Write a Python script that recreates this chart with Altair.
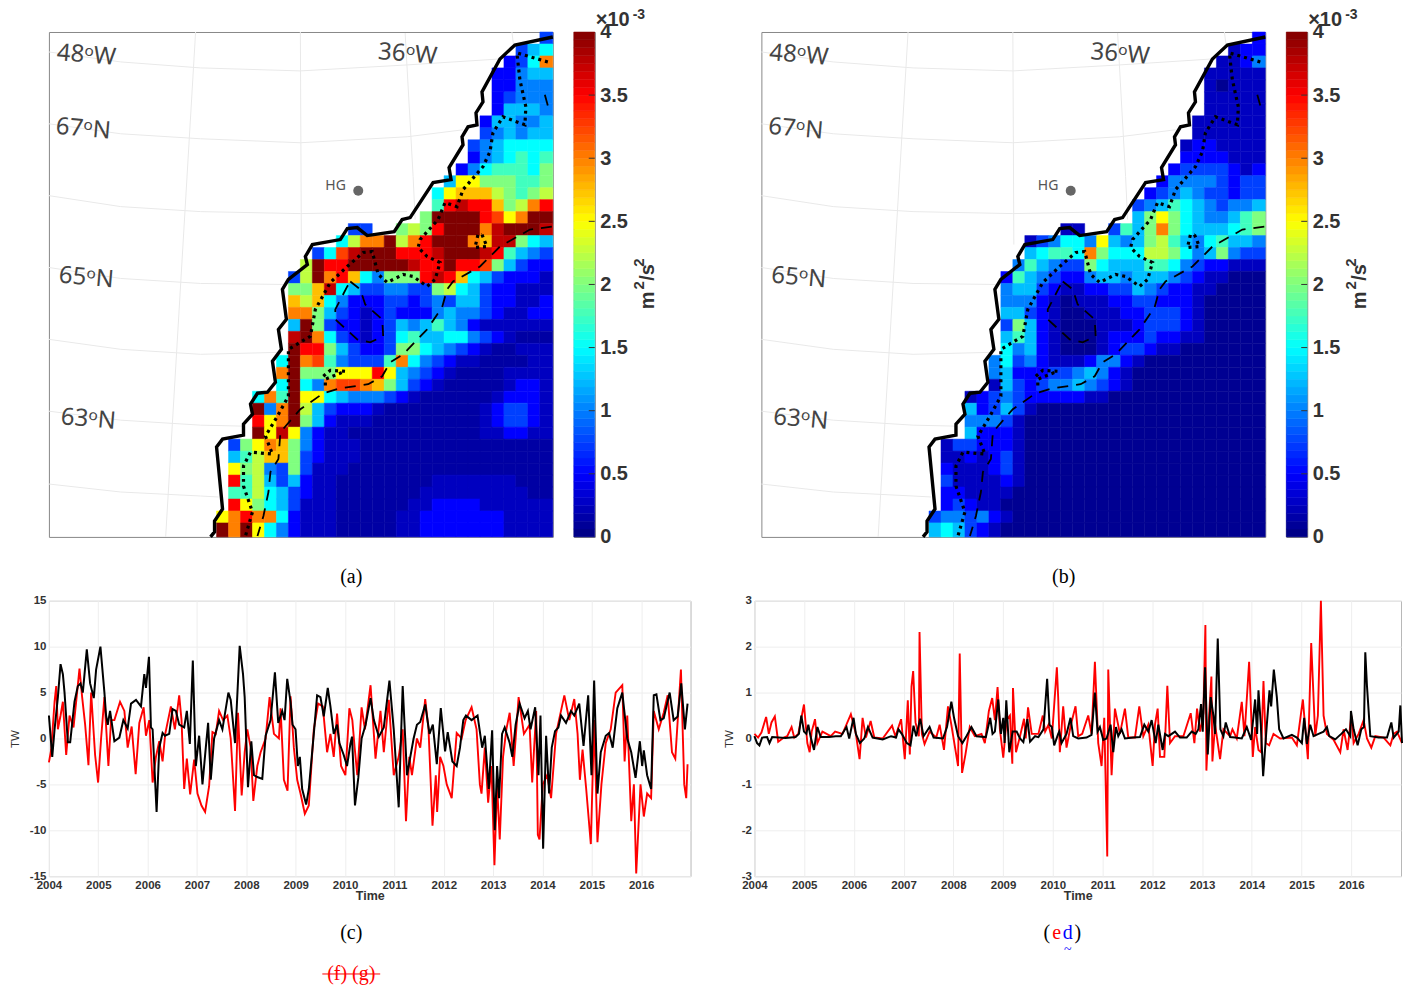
import altair as alt
import pandas as pd
import numpy as np

# ---- map cell values: (first column, one character per cell), row by row from the top
LEVELS = "0123456789abcdefg"   # each step is 0.25e-3 m2/s2
MAP_A = [
(41,"3"),(39,"356"),(38,"236c"),(37,"22455"),(37,"22444"),(37,"23444"),(37,"25554"),
(36,"255445"),(36,"345455"),(35,"3456666"),(35,"2456767"),(34,"24677768"),
(33,"5aa888778"),(32,"6abbb98789"),(32,"7efeeb89ce"),(31,"8ggggedacgg"),
(25,"33..898egggcfgggf"),(24,"69ccg9cegggcbff865"),(22,"36dfgggeeefgggfe7543"),
(21,"9geegggggfeegeed85322"),(20,"39gceb64888efeb6532221"),(20,"88bf653344338965322111"),
(20,"b9b6422233234355322112"),(20,"cc85321232224544321122"),(20,"5g83221235457542111111"),
(20,"fgc6321236755664321ooo"),(20,"gee85322388654321oo111"),(19,"6gcd743337c643211oooo11"),
(19,"cg888aaaea54321oooo1111"),(19,"6g64cddcb85321ooooo1221"),(17,"6c7gaa65444321oooooo12221"),
(17,"g4cg9532221oooooooo123321"),(17,"eacg852111ooooooooo123321"),(17,"gafa4211ooooooooooo112211"),
(15,"38acb842111oooooooooooooooo"),(15,"579bb832111oooooooooooooooo"),(15,"a894383111ooooooooooooooooo"),
(15,"e79535211oooooooo1111111ooo"),(15,"779653211ooooooo111111111oo"),(15,"ea8653111oooooo112222111111"),
(14,"acecc62111ooooo1122222221111"),(14,"gcga642111ooooo1122222221111"),
]
MAP_B = [
(41,"2"),(39,"122"),(38,"1124"),(37,"11111"),(37,"1o111"),(37,"11111"),(37,"11111"),
(36,"111111"),(36,"111111"),(35,"1221111"),(35,"2222111"),(34,"23333212"),
(33,"244443233"),(32,"2345433233"),(31,"34576543445"),(31,"58a86544578"),
(25,"11..3758c86555678"),(22,"134664a5458975467554"),(22,"56776c86669986458433"),
(21,"475433865557764322111"),(20,"2754322455455543211ooo"),(20,"455321122335432211oooo"),
(20,"44421o11122332221ooooo"),(20,"55321oo1112233321ooooo"),(20,"38521ooo111233321ooooo"),
(20,"57521ooo122232211ooooo"),(20,"64521ooo1233211ooooooo"),(19,"4634211124421oooooooooo"),
(19,"452223345421ooooooooooo"),(19,"153234454321ooooooooooo"),(17,"123432222211ooooooooooooo"),
(17,"523531ooooooooooooooooooo"),(17,"44431oooooooooooooooooooo"),(17,"52221oooooooooooooooooooo"),
(15,"1332221oooooooooooooooooooo"),(15,"1121231oooooooooooooooooooo"),(15,"2111231oooooooooooooooooooo"),
(15,"3111121oooooooooooooooooooo"),(15,"221111ooooooooooooooooooooo"),(15,"23211oooooooooooooooooooooo"),
(14,"3443421ooooooooooooooooooooo"),(14,"565321oooooooooooooooooooooo"),
]
LOW_A, LOW_B = 0.14, 0.07

# ---- map outlines, read as pixels of the map's own frame (origin at its top-left = 48,32)
COAST = [(553,37),(515,45),(500,59),(482,92),(483,102),(476,113),(477,125),(468,127),(462,137),(463,145),(449,168),(451,180),(433,183),(410,218),(402,220),(394,232),(367,236),(357,228),(347,229),(340,240),(312,245),(305,257),(307,265),(288,280),(282,290),(286,320),(278,330),(281,350),(272,362),(275,383),(267,393),(257,394),(250,405),(252,415),(243,425),(243,436),(222,440),(216,448),(222,510),(214,522),(214,533),(210,538)]
DOTTED = [(548,62),(517,53),(520,80),(526,107),(525,125),(503,117),(493,133),(490,152),(483,167),(463,190),(457,207),(445,203),(438,220),(420,240),(418,248),(427,257),(440,263),(435,280),(427,287),(413,277),(403,275),(387,283),(378,275),(372,252),(363,253),(347,267),(330,283),(315,310),(310,337),(288,350),(288,377),(288,397),(277,417),(265,437),(272,455),(250,453),(243,467),(243,487),(252,513),(245,537)]
DOT_LOOP1 = [(482,235),(487,247),(475,248),(478,235),(482,235)]
DOT_LOOP2 = [(323,377),(330,371),(345,372),(337,375),(325,380),(325,387)]
DASHED = [(552,227),(530,230),(500,247),(480,267),(453,282),(447,290),(442,308),(427,330),(403,355),(390,363),(382,377),(368,385),(340,389),(323,394),(300,410),(280,433),(278,460),(270,473),(268,493),(263,517),(257,537)]
DASH_LOOP = [(350,282),(360,290),(365,305),(382,320),(383,337),(370,343),(357,340),(335,320),(335,310),(347,287),(350,282)]
DASH_TOP = [(545,95),(550,113)]
GRATICULE = [
 [(48,52),(120,62),(200,68),(300,71),(407,65),(500,59)],
 [(48,124),(120,134),(200,139),(300,143),(407,137),(463,130)],
 [(48,196),(120,207),(200,212),(300,214),(407,212)],
 [(48,268),(120,279),(200,284),(283,285)],
 [(48,340),(120,350),(200,355),(280,353)],
 [(48,412),(120,421),(200,426),(243,427)],
 [(48,485),(120,493),(200,497),(218,498)],
 [(195,32),(165,538)],[(300,32),(301,245)],[(405,33),(413,177),(415,220)],[(512,32),(514,48)],
]
HG = (358,191)

# ---- time series: (reading on a scale of about 148 ticks per year, value)
C_BLACK_1 = [(148,2.5),(158,-2),(165,1),(175,4.5),(183,8.1),(190,7),(195,5),(205,-.4),(212,-.4),(225,4),(235,5.7),(243,6),(250,5),(262,9.7),(272,6),(283,4.4),(290,7.5),(303,10),(315,5),(320,2.5),(325,1.5),(332,3),(345,-.3),(360,.1),(372,2),(385,1.1),(395,3.8),(410,4.2),(425,3.5),(435,7),(440,5.5),(449,8.9),(455,1.2),(460,1),(472,-8),(480,-1),(490,.6),(497,.3),(510,.5),(520,3.2),(530,3),(540,1.5),(555,1.2),(563,3),(572,-.6),(581,8.5),(590,-3),(600,.3),(610,-5),(620,-1),(627,1.7),(635,-4.5),(645,0),(660,2),(670,1),(688,5),(695,4.2),(708,-.5),(722,10.1),(732,7),(737,4.5),(747,-5.3),(757,-.3),(765,-4),(775,-4.2),(790,-4.4),(800,.3),(815,2),(828,7.2),(838,1.7),(850,3),(857,2),(865,6.5),(875,4),(881,1.5),(890,1),(897,-3),(903,-2),(910,-5.5),(922,-7.2),(930,-5.5),(945,.5),(955,4.7),(965,4.5),(975,2.4),(987,5.5),(995,3.5),(1005,.5),(1015,1.5),(1022,-.5),(1035,-1.8),(1045,-3),(1055,-.6),(1060,.2)]
C_BLACK_2 = [(18,-7.3),(28,-4.3),(38,0),(50,1.5),(65,4.4),(75,2),(90,.2),(105,1.2),(122,6.3),(135,1),(150,-7.5),(162,5.7),(175,-4),(195,0),(205,1.5),(215,1.8),(230,3.7),(243,.5),(253,1.5),(265,-2.8),(277,3.3),(290,-1.4),(298,.7),(312,-2.5),(325,-3),(335,-1),(345,2),(353,2.5),(370,2),(388,2.5),(402,-1),(410,.3),(422,-5.5),(432,.9),(440,-10),(447,-3),(453,-6.5),(462,.5),(470,1.2),(485,-.5),(493,-2),(503,1.5),(515,3.8),(530,2.2),(540,3),(548,1),(562,3.4),(572,-4),(578,2.5),(586,-12),(595,.3),(604,-6),(612,-1),(622,.8),(632,1.2),(640,2.5),(655,1.7),(670,3),(680,2.5),(695,3.8),(708,-.8),(722,4.7),(732,-4),(740,6.3),(750,-6),(760,-1.5),(775,.3),(785,.6),(796,-1),(810,3.3),(825,5),(840,0),(852,-1.5),(865,-4.3),(878,-.3),(885,-3),(890,-1.3),(900,-4),(912,-5.5),(920,4.7),(928,4.8),(940,2),(950,2.2),(968,5),(980,2),(992,2.4),(1003,6),(1014,1),(1022,3.8)]
C_RED_1 = [(148,-2.6),(155,-1.2),(165,4),(170,5.7),(175,1),(183,2.5),(190,4),(200,-1.8),(210,2.5),(222,1.2),(230,4),(240,7.6),(248,4.5),(257,1.5),(267,-2.9),(275,5),(287,-1.8),(296,-4.8),(305,0),(315,4.5),(327,-3),(335,2),(345,2),(362,4),(375,3),(385,-1),(397,1.3),(409,-3.9),(420,1.7),(433,3.4),(440,.3),(450,2),(460,-4.8),(470,-2),(480,-.3),(490,-2.5),(498,.5),(515,3.5),(527,1),(540,4.7),(547,2),(555,-5.5),(563,-2.2),(573,-6.1),(585,-2.3),(595,-6),(607,-7.3),(618,-8),(630,-5.2),(640,.7),(650,.5),(660,3),(672,2),(685,2.5),(695,0),(708,-7.9),(717,2.8),(728,-6.2),(737,-1.5),(745,1),(755,-1),(763,-6.8),(775,-3),(785,-1.5),(800,0),(812,4.5),(825,.5),(840,0),(845,3.3),(855,-4.5),(866,-5.7),(875,4.6),(885,-1),(895,-4.5),(905,-6),(918,-8.2),(930,-7.3),(945,1),(958,3.8),(972,3.5),(985,-1.5),(995,.5),(1005,-2),(1015,2.7),(1027,-3),(1040,-4),(1052,3.3)]
C_RED_2 = [(10,2),(17,-1),(25,-4),(38,3.4),(48,1),(65,5.8),(80,-2.2),(95,3),(105,-1.5),(120,4.2),(135,-4),(150,-2),(162,1),(172,-9),(182,-2),(190,-4),(205,0),(215,-1),(230,4.3),(240,1),(252,-9.5),(262,-4),(266,-8),(275,-2),(285,-3),(295,-5),(310,-6.5),(325,.6),(340,0),(352,2),(370,3.4),(385,1),(395,-5),(400,-6),(410,-1),(420,-7),(430,-3),(439,-13.8),(447,-5),(455,-11),(465,-2),(475,1),(485,2.8),(497,-3),(512,4.5),(528,.5),(545,1.5),(553,-4.8),(565,3),(570,-10.5),(575,-11),(585,-5),(598,-4),(610,-6.5),(625,.5),(650,4.7),(665,2),(680,4.3),(690,.5),(697,-4.5),(705,-1.2),(716,-5.5),(730,-11.5),(740,2),(750,-11.3),(762,-5),(775,-.5),(790,1),(805,5),(825,5.8),(832,-2.5),(840,2.5),(852,-9),(860,-5),(867,-14.7),(880,-5),(890,-8.5),(900,-6),(912,-6.5),(920,3),(935,1),(950,2.8),(962,4.7),(975,-1.5),(985,-2.2),(1002,7.5),(1012,-5),(1018,-6.5),(1022,-2.8)]
D_BLACK_1 = [(137,.05),(145,-.1),(152,-.15),(160,.02),(175,.03),(182,-.1),(190,.03),(230,.01),(260,.03),(270,.1),(277,.5),(285,.15),(292,.1),(298,.3),(305,.03),(315,-.25),(325,.25),(335,.03),(360,.03),(380,.05),(395,.05),(412,.25),(420,0),(433,.45),(440,.1),(452,-.1),(465,0),(476,.25),(490,.02),(520,-.02),(545,.05),(560,.02),(567,.2),(577,.1),(592,-.1),(603,-.15),(612,.28),(620,.05),(632,.43),(642,.05),(660,.25),(672,.02),(700,0),(712,.25),(725,.8),(733,.45),(745,.05),(758,-.1),(770,.05),(785,.25),(800,.05),(828,.03),(841,.45),(848,.1),(855,.15),(865,.85),(873,.1),(880,.45),(884,-.1),(889,.83),(898,-.3),(908,.15),(920,.15),(930,0),(940,-.08),(952,.42),(960,-.07),(975,.05),(985,.03),(1000,.2),(1011,1.3),(1018,.3),(1025,.25),(1032,-.15),(1047,.15)]
D_BLACK_2 = [(0,.1),(10,-.1),(25,.1),(37,.45),(45,.05),(60,0),(85,.02),(100,.08),(110,1),(118,.15),(125,.25),(135,-.03),(145,0),(157,.3),(165,-.3),(173,.25),(180,.05),(190,.2),(200,0),(225,.02),(245,.03),(258,.3),(270,.15),(280,.4),(292,-.1),(300,.3),(313,-.25),(320,.1),(330,.05),(350,.15),(365,.02),(385,.02),(400,.15),(412,.1),(420,.2),(428,.75),(433,.15),(440,1.55),(448,-.35),(457,.9),(465,.5),(470,.1),(478,2.18),(486,.2),(495,.05),(502,.35),(515,.03),(530,.02),(550,0),(565,.25),(578,-.03),(590,.85),(596,.1),(600,1.05),(607,.3),(614,-.82),(625,.3),(633,1.05),(638,.7),(646,1.5),(655,.9),(662,.2),(675,0),(700,.08),(715,.02),(730,-.1),(737,.45),(745,-.12),(755,.3),(765,.05),(780,.1),(795,.15),(805,.25),(812,.05),(830,-.02),(848,.1),(862,.2),(875,.05),(877,.6),(885,.2),(897,-.15),(908,.2),(916,.25),(920,1.88),(925,1.15),(935,.05),(960,.02),(985,.02),(998,.35),(1005,.02),(1020,.15),(1025,.72),(1030,-.1)]
D_RED_1 = [(137,.1),(148,.02),(158,.13),(172,.47),(180,.1),(188,.35),(198,.48),(208,-.07),(225,.02),(235,.05),(248,.25),(256,.02),(268,.1),(285,.74),(295,-.1),(302,-.3),(308,.15),(318,.42),(325,-.1),(340,.15),(365,.05),(378,.15),(400,.1),(425,.53),(440,.1),(451,-.45),(460,.45),(470,.02),(484,.38),(495,.02),(520,0),(548,.28),(558,.05),(575,.42),(586,-.45),(595,.83),(601,-.35),(606,1.13),(611,1.47),(618,.35),(628,.05),(630,2.32),(637,.1),(645,-.12),(660,.15),(680,.02),(690,.3),(703,-.25),(715,.7),(725,.3),(745,-.6),(750,1.85),(757,-.75),(767,-.35),(780,.25),(795,.05),(815,.1),(825,-.1),(837,.6),(847,.88),(855,.4),(863,1.12),(870,.2),(880,-.42),(890,.4),(900,.5),(907,-.55),(909,1.1),(918,-.3),(930,.05),(942,.43),(947,0),(954,.68),(965,.1),(985,.1),(998,.5),(1005,.15),(1015,.3),(1025,0),(1040,1.55)]
D_RED_2 = [(0,.9),(5,-.3),(15,.7),(25,-.2),(38,.3),(52,.7),(60,.05),(72,.1),(90,.5),(100,.1),(110,1.67),(120,-.1),(130,-.6),(138,.45),(147,-2.57),(150,1.5),(160,-.8),(170,.65),(185,.1),(200,.65),(210,.02),(230,.02),(243,.7),(255,.05),(270,.3),(283,-.6),(290,.3),(298,.65),(305,-.4),(318,-.4),(327,1.15),(335,-.1),(350,.05),(375,.05),(397,.55),(408,-.1),(416,.65),(425,.15),(435,.55),(441,2.47),(444,-.7),(452,.5),(459,1.35),(462,-.5),(470,.3),(485,-.45),(495,.2),(515,.05),(522,.2),(535,0),(550,.8),(558,.05),(572,1.67),(583,-.4),(590,.25),(600,-.25),(608,-.3),(615,1.25),(622,-.1),(632,-.15),(645,.1),(665,0),(700,.02),(715,-.15),(722,.25),(733,.85),(748,-.45),(758,2.08),(770,.05),(778,.5),(787,3),(795,.5),(805,.1),(825,-.03),(845,-.3),(855,.2),(867,-.25),(878,.5),(885,-.1),(900,.1),(915,.4),(925,0),(938,-.2),(950,.05),(975,.02),(995,-.15),(1005,.1),(1015,.15),(1030,-.1)]

YEARS = list(range(2004, 2017))
JET = alt.Scale(domain=[0, .5, 1.5, 2.5, 3.5, 4], range=["#000080", "#0000ff", "#00ffff", "#ffff00", "#ff0000", "#800000"], interpolate="rgb", clamp=True)
DUMMY = alt.Data(values=[{"a": 1}])
MAP_W, MAP_H, CELL = 505, 506, 12
OX, OY = 48, 32
TOP_BOUND = -32
xm = alt.Scale(domain=[0, MAP_W], nice=False, zero=False)
ym = alt.Scale(domain=[MAP_H, 0], nice=False, zero=False)


def anchor(x, y):
    return alt.Chart(DUMMY).mark_rule(opacity=0).encode(x=alt.value(x), x2=alt.value(x + 1), y=alt.value(y), y2=alt.value(y + 1))


def txt(s, x, y, **kw):
    return alt.Chart(DUMMY).mark_text(text=s, **kw).encode(x=alt.value(x), y=alt.value(y))


def poly(points, **kw):
    df = pd.DataFrame([{"x": p[0] - OX, "y": p[1] - OY, "i": i} for i, p in enumerate(points)])
    return alt.Chart(df).mark_line(**kw).encode(
        x=alt.X("x:Q", scale=xm, axis=None),
        y=alt.Y("y:Q", scale=ym, axis=None),
        order="i:Q",
    )


def cells(rows, low):
    out = []
    for r, (start, s) in enumerate(rows):
        for j, ch in enumerate(s):
            if ch == ".":
                continue
            c = start + j
            v = low if ch == "o" else LEVELS.index(ch) * 0.25
            out.append({"x0": c * CELL, "x1": MAP_W if c == 41 else (c + 1) * CELL,
                        "y0": r * CELL, "y1": MAP_H if r == 41 else (r + 1) * CELL, "v": v})
    return pd.DataFrame(out)


def deg(s, x, y):
    return txt(s, x - OX, y - OY, font="Noto Sans", fontSize=24, color="#444444", align="left", baseline="middle", angle=5)


def map_panel(rows, low, caption, left):
    layers = [poly(g, color="#e9e9e9", strokeWidth=1) for g in GRATICULE]
    c = alt.Chart(cells(rows, low)).mark_rect(strokeWidth=0.5).encode(
        x=alt.X("x0:Q", scale=xm, axis=None), x2="x1:Q",
        y=alt.Y("y0:Q", scale=ym, axis=None), y2="y1:Q",
        color=alt.Color("v:Q", scale=JET, legend=None),
        stroke=alt.Color("v:Q", scale=JET, legend=None),
    )
    layers.append(c)
    layers.append(poly(COAST, color="black", strokeWidth=3.4, strokeJoin="miter"))
    for p in (DOTTED, DOT_LOOP1, DOT_LOOP2):
        layers.append(poly(p, color="black", strokeWidth=3.2, strokeDash=[3, 4]))
    for p in (DASHED, DASH_LOOP, DASH_TOP):
        layers.append(poly(p, color="black", strokeWidth=1.8, strokeDash=[11, 8]))
    hg = pd.DataFrame([{"x": HG[0] - OX, "y": HG[1] - OY}])
    layers.append(alt.Chart(hg).mark_circle(size=100, color="#666666", opacity=1).encode(
        x=alt.X("x:Q", scale=xm, axis=None), y=alt.Y("y:Q", scale=ym, axis=None)))
    layers.append(txt("HG", 277, 154, font="Noto Sans", fontSize=14, color="#555555", align="left", baseline="middle"))
    for s, x, y in (("48ᵒW", 56, 53), ("36ᵒW", 378, 52), ("67ᵒN", 55, 127), ("65ᵒN", 58, 276), ("63ᵒN", 60, 418)):
        layers.append(deg(s, x, y))
    layers.append(txt(caption, 303, 546, font="Liberation Serif", fontSize=20, color="black", align="center", baseline="middle"))
    layers.append(anchor(left, TOP_BOUND))
    layers.append(anchor(left, 558))
    return alt.layer(*layers).properties(width=MAP_W, height=MAP_H, view=alt.ViewBackground(stroke="#888888"))


def colorbar(right):
    edges = np.linspace(0, 4, 65)
    df = pd.DataFrame({"a": edges[:-1], "b": edges[1:], "m": (edges[:-1] + edges[1:]) / 2})
    yc = alt.Scale(domain=[0, 4], nice=False, zero=False)
    ax = alt.Axis(orient="right", values=[0, .5, 1, 1.5, 2, 2.5, 3, 3.5, 4], format="~g",
                  labelFont="Liberation Sans", labelFontSize=20, labelFontWeight="bold", labelColor="#333333",
                  tickSize=0, domain=False, grid=False, labelPadding=5, title=None)
    bar = alt.Chart(df).mark_rect(strokeWidth=0.5).encode(
        x=alt.value(0), x2=alt.value(21),
        y=alt.Y("a:Q", scale=yc, axis=ax), y2="b:Q",
        color=alt.Color("m:Q", scale=JET, legend=None),
        stroke=alt.Color("m:Q", scale=JET, legend=None))
    tk = alt.Chart(pd.DataFrame({"t": [.5, 1, 1.5, 2, 2.5, 3, 3.5]})).mark_rule(color="#333333", strokeWidth=1).encode(
        x=alt.value(15), x2=alt.value(21), y=alt.Y("t:Q", scale=yc, axis=ax))
    bold = dict(font="Liberation Sans", fontWeight="bold", color="#333333", baseline="middle")
    unit = [
        txt("m", 74, 269, fontSize=20, angle=270, align="center", **bold),
        txt("2", 65, 254, fontSize=15, angle=270, align="center", **bold),
        txt("/s", 74, 241, fontSize=20, angle=270, align="center", **bold),
        txt("2", 65, 231, fontSize=15, angle=270, align="center", **bold),
        txt("×10", 22, -12, fontSize=20, align="left", **bold),
        txt("-3", 59, -17, fontSize=14, align="left", **bold),
    ]
    return alt.layer(bar, tk, *unit, anchor(right, TOP_BOUND), anchor(right, 558)).properties(width=21, height=MAP_H, view=alt.ViewBackground(stroke="#777777"))


def series(a, b, start2, scale1):
    pts = [(2004 + (u - scale1) / 148.5, v) for u, v in a] + [(2011 + (u - start2) / 149.0, v) for u, v in b]
    return pd.DataFrame(pts, columns=["t", "v"]).sort_values("t")


def ts_panel(red, black, ydom, yvals, w, title_x, extra):
    xs = alt.Scale(domain=[2004, 2017], nice=False, zero=False)
    ys = alt.Scale(domain=ydom, nice=False, zero=False)
    xa = alt.Axis(values=YEARS, format="d", labelFont="Liberation Sans", labelFontSize=11.5, labelFontWeight="bold",
                  labelColor="#333333", tickSize=0, labelPadding=3, domain=False, grid=True, gridColor="#eeeeee",
                  labelFlush=False,
                  title="Time", titleFont="Liberation Sans", titleFontSize=12.5, titleFontWeight="bold", titleColor="#333333", titlePadding=-1)
    ya = alt.Axis(values=yvals, labelFont="Liberation Sans", labelFontSize=11.5, labelFontWeight="bold", labelColor="#333333",
                  tickSize=0, labelPadding=3, domain=False, grid=True, gridColor="#eeeeee",
                  labelExpr="replace(datum.label,'−','-')",
                  title="TW", titleFont="Liberation Sans", titleFontSize=11.5, titleFontWeight="normal", titleColor="#333333",
                  titleX=title_x, titleY=138)
    enc = dict(x=alt.X("t:Q", scale=xs, axis=xa), y=alt.Y("v:Q", scale=ys, axis=ya))
    r = alt.Chart(red).mark_line(color="#ff0000", strokeWidth=1.9).encode(**enc)
    k = alt.Chart(black).mark_line(color="#000000", strokeWidth=2).encode(**enc)
    return alt.layer(r, k, *extra).properties(width=w, height=276, view=alt.ViewBackground(stroke="#b8b8b8"))


serif = dict(font="Liberation Serif", fontSize=20, baseline="middle", align="center")

top = alt.hconcat(
    alt.hconcat(map_panel(MAP_A, LOW_A, "(a)", -40), colorbar(118), spacing=21, bounds="flush"),
    alt.hconcat(map_panel(MAP_B, LOW_B, "(b)", -41), colorbar(113), spacing=21, bounds="flush"),
    spacing=26)

c_extra = [
    txt("(c)", 303, 333, color="black", **serif),
    txt("(f) (g)", 303, 374, color="#ff0000", **serif),
    alt.Chart(DUMMY).mark_rule(color="#ff0000", strokeWidth=1).encode(x=alt.value(274), x2=alt.value(332), y=alt.value(374)),
    anchor(-40, -2),
]
d_extra = [
    txt("(", 293, 333, color="black", **serif),
    txt("e", 303, 333, color="#ff0000", **serif),
    txt("d", 314, 333, color="#0000ff", **serif),
    txt(")", 324, 333, color="black", **serif),
    txt("~", 314, 350, fontSize=14, color="#0000ff", font="Liberation Serif", baseline="middle", align="center"),
    anchor(10, -2),
]
panel_c = ts_panel(series(C_RED_1, C_RED_2, 137, 148), series(C_BLACK_1, C_BLACK_2, 137, 148),
                   [-15, 15], [-15, -10, -5, 0, 5, 10, 15], 643, -28, c_extra)
panel_d = ts_panel(series(D_RED_1, D_RED_2, 133, 137), series(D_BLACK_1, D_BLACK_2, 133, 137),
                   [-3, 3], [-3, -2, -1, 0, 1, 2, 3], 648, -20, d_extra)
bottom = alt.hconcat(panel_c, panel_d, spacing=64, bounds="flush")

chart = alt.vconcat(top, bottom, spacing=3).properties(padding={"left": 0, "top": -10, "right": 0, "bottom": -1}).configure(background="white")
chart.save("out.html", embed_options={"renderer": "svg", "actions": False})
